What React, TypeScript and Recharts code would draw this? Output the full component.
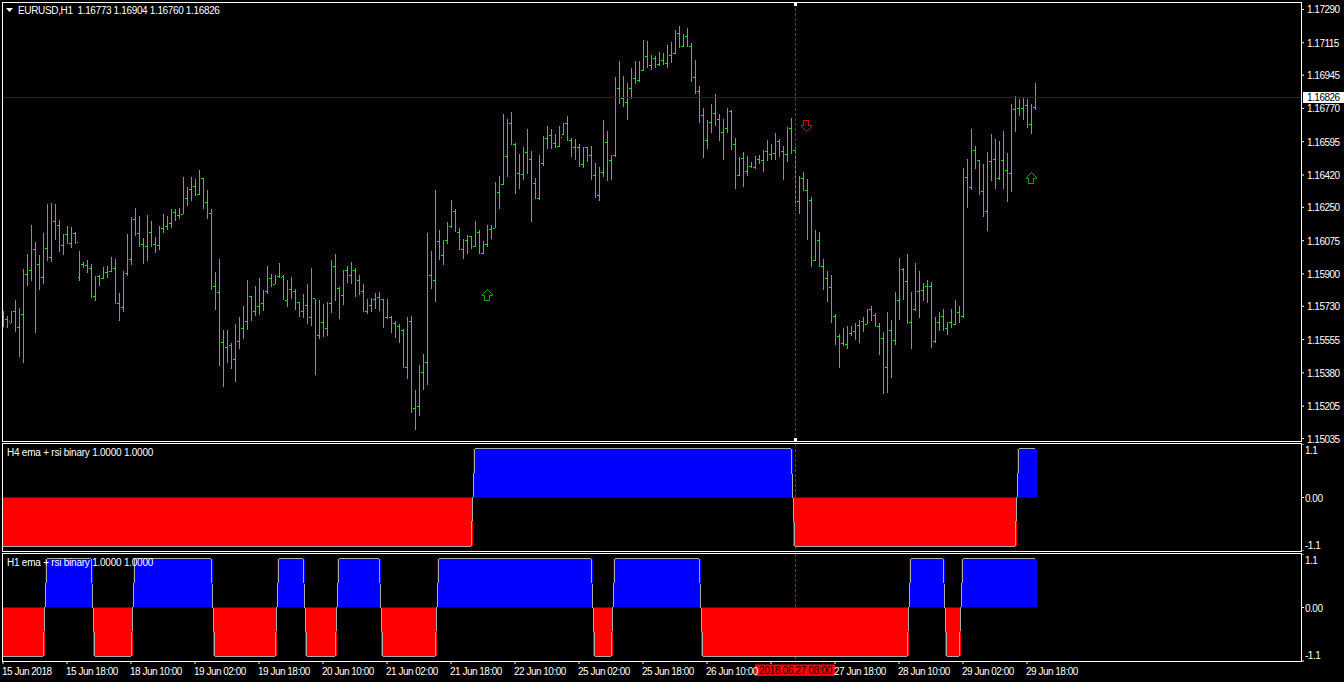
import React from "react";
import {
  ComposedChart,
  Bar,
  Line,
  XAxis,
  YAxis,
  ReferenceLine,
  ReferenceDot,
} from "recharts";

// EURUSD H1 bars
const opens = [1.15668,1.15662,1.15640,1.15704,1.15620,1.15688,1.15898,1.15919,1.16029,1.15951,1.15882,1.16035,1.15987,1.16177,1.16156,1.16050,1.16108,1.16061,1.16113,1.15882,1.15951,1.15945,1.15931,1.15779,1.15889,1.15877,1.15908,1.15914,1.15930,1.15746,1.15725,1.15903,1.15977,1.16187,1.16110,1.16056,1.16045,1.16119,1.16056,1.16049,1.16140,1.16150,1.16166,1.16224,1.16208,1.16213,1.16297,1.16345,1.16361,1.16318,1.16403,1.16276,1.16219,1.15835,1.15805,1.15541,1.15514,1.15525,1.15451,1.15546,1.15614,1.15651,1.15782,1.15704,1.15730,1.15746,1.15809,1.15877,1.15845,1.15886,1.15889,1.15761,1.15819,1.15810,1.15751,1.15704,1.15732,1.15670,1.15772,1.15577,1.15646,1.15614,1.15744,1.15940,1.15826,1.15786,1.15917,1.15893,1.15917,1.15866,1.15809,1.15704,1.15735,1.15768,1.15777,1.15768,1.15672,1.15672,1.15640,1.15626,1.15604,1.15407,1.15651,1.15194,1.15202,1.15383,1.15435,1.15893,1.15865,1.16071,1.15998,1.16075,1.16149,1.16229,1.16119,1.16029,1.16077,1.16099,1.16045,1.16119,1.16008,1.16054,1.16134,1.16140,1.16329,1.16368,1.16516,1.16692,1.16578,1.16429,1.16424,1.16539,1.16502,1.16376,1.16294,1.16481,1.16613,1.16627,1.16587,1.16569,1.16634,1.16692,1.16600,1.16566,1.16566,1.16473,1.16562,1.16523,1.16418,1.16313,1.16432,1.16592,1.16497,1.16520,1.16876,1.16823,1.16800,1.16876,1.16928,1.16918,1.16970,1.17042,1.16995,1.17033,1.17002,1.17023,1.17007,1.17046,1.17060,1.17165,1.17095,1.17149,1.17096,1.16935,1.16860,1.16732,1.16602,1.16697,1.16744,1.16714,1.16644,1.16662,1.16756,1.16581,1.16418,1.16509,1.16439,1.16467,1.16460,1.16504,1.16497,1.16544,1.16529,1.16532,1.16597,1.16544,1.16529,1.16662,1.16550,1.16280,1.16403,1.16340,1.16287,1.15972,1.16077,1.15940,1.15875,1.15828,1.15677,1.15572,1.15535,1.15527,1.15588,1.15600,1.15630,1.15651,1.15635,1.15711,1.15684,1.15625,1.15562,1.15409,1.15604,1.15551,1.15761,1.15924,1.15861,1.15646,1.15711,1.15809,1.15814,1.15835,1.15835,1.15546,1.15646,1.15676,1.15614,1.15646,1.15635,1.15698,1.15677,1.16408,1.16355,1.16550,1.16497,1.16334,1.16229,1.16492,1.16502,1.16403,1.16497,1.16445,1.16429,1.16762,1.16771,1.16771,1.16783,1.16687,1.16776,1.16773];
const highs = [1.15705,1.15679,1.15704,1.15763,1.15721,1.15926,1.16005,1.16157,1.16066,1.16000,1.16115,1.16268,1.16271,1.16268,1.16184,1.16108,1.16152,1.16145,1.16119,1.16019,1.15965,1.15973,1.15952,1.15889,1.15894,1.15937,1.15942,1.15989,1.15979,1.15798,1.15914,1.16110,1.16199,1.16247,1.16205,1.16089,1.16210,1.16178,1.16092,1.16152,1.16215,1.16205,1.16240,1.16240,1.16245,1.16410,1.16357,1.16408,1.16399,1.16446,1.16404,1.16339,1.16240,1.15910,1.15979,1.15605,1.15605,1.15539,1.15637,1.15674,1.15732,1.15868,1.15782,1.15837,1.15879,1.15816,1.15942,1.15900,1.15893,1.15958,1.15893,1.15868,1.15884,1.15819,1.15751,1.15795,1.15847,1.15931,1.15768,1.15763,1.15742,1.15751,1.15973,1.16005,1.15833,1.15921,1.15942,1.15963,1.15931,1.15893,1.15847,1.15768,1.15772,1.15798,1.15805,1.15768,1.15768,1.15679,1.15651,1.15637,1.15609,1.15672,1.15679,1.15290,1.15421,1.15479,1.16113,1.16019,1.16339,1.16131,1.16078,1.16173,1.16287,1.16240,1.16140,1.16082,1.16103,1.16099,1.16178,1.16131,1.16073,1.16157,1.16157,1.16382,1.16415,1.16741,1.16714,1.16749,1.16590,1.16530,1.16569,1.16662,1.16546,1.16404,1.16525,1.16625,1.16678,1.16662,1.16636,1.16678,1.16692,1.16730,1.16613,1.16609,1.16583,1.16566,1.16566,1.16572,1.16481,1.16462,1.16709,1.16651,1.16525,1.16937,1.17019,1.16940,1.16904,1.16983,1.17019,1.17019,1.17130,1.17124,1.17051,1.17044,1.17067,1.17061,1.17103,1.17119,1.17182,1.17203,1.17161,1.17193,1.17114,1.17025,1.16888,1.16772,1.16709,1.16793,1.16846,1.16741,1.16714,1.16772,1.16762,1.16615,1.16515,1.16541,1.16520,1.16488,1.16520,1.16525,1.16552,1.16604,1.16583,1.16641,1.16609,1.16572,1.16672,1.16720,1.16569,1.16415,1.16436,1.16399,1.16303,1.16131,1.16121,1.15979,1.15916,1.15895,1.15690,1.15584,1.15616,1.15627,1.15627,1.15642,1.15658,1.15674,1.15716,1.15732,1.15695,1.15642,1.15595,1.15700,1.15658,1.15805,1.15984,1.15931,1.16005,1.15805,1.15958,1.15916,1.15852,1.15868,1.15858,1.15674,1.15700,1.15716,1.15647,1.15716,1.15763,1.15732,1.16457,1.16504,1.16662,1.16573,1.16499,1.16478,1.16541,1.16636,1.16609,1.16599,1.16651,1.16536,1.16793,1.16835,1.16820,1.16825,1.16820,1.16793,1.16904];
const lows = [1.15623,1.15618,1.15640,1.15597,1.15465,1.15434,1.15838,1.15865,1.15591,1.15817,1.15849,1.15968,1.15965,1.16080,1.16017,1.16001,1.16057,1.16036,1.16057,1.15865,1.15931,1.15907,1.15772,1.15760,1.15838,1.15872,1.15880,1.15912,1.15744,1.15654,1.15702,1.15891,1.15949,1.16101,1.16040,1.15954,1.15970,1.16043,1.16012,1.16028,1.16117,1.16131,1.16143,1.16180,1.16191,1.16213,1.16259,1.16285,1.16311,1.16315,1.16243,1.16191,1.15817,1.15712,1.15418,1.15308,1.15434,1.15402,1.15334,1.15507,1.15560,1.15607,1.15654,1.15681,1.15686,1.15707,1.15796,1.15833,1.15845,1.15877,1.15761,1.15728,1.15768,1.15711,1.15675,1.15670,1.15635,1.15628,1.15371,1.15560,1.15570,1.15576,1.15697,1.15758,1.15665,1.15739,1.15852,1.15847,1.15781,1.15789,1.15702,1.15690,1.15698,1.15714,1.15705,1.15618,1.15663,1.15588,1.15563,1.15539,1.15404,1.15348,1.15171,1.15080,1.15155,1.15292,1.15318,1.15821,1.15754,1.15973,1.15949,1.16057,1.16140,1.16119,1.16028,1.15980,1.16007,1.16033,1.16043,1.16007,1.16007,1.16043,1.16085,1.16140,1.16243,1.16368,1.16411,1.16578,1.16322,1.16348,1.16394,1.16427,1.16175,1.16294,1.16289,1.16467,1.16557,1.16557,1.16562,1.16567,1.16629,1.16600,1.16513,1.16499,1.16464,1.16457,1.16487,1.16394,1.16299,1.16283,1.16411,1.16389,1.16394,1.16516,1.16793,1.16777,1.16709,1.16820,1.16898,1.16909,1.16968,1.16983,1.16972,1.16981,1.16995,1.16998,1.16983,1.17009,1.17056,1.17089,1.17093,1.17095,1.16909,1.16846,1.16693,1.16509,1.16557,1.16641,1.16678,1.16599,1.16499,1.16641,1.16552,1.16347,1.16415,1.16357,1.16415,1.16455,1.16452,1.16478,1.16436,1.16494,1.16499,1.16497,1.16515,1.16394,1.16488,1.16530,1.16254,1.16215,1.16336,1.16079,1.15938,1.15968,1.15935,1.15816,1.15753,1.15644,1.15527,1.15407,1.15521,1.15506,1.15574,1.15553,1.15537,1.15595,1.15637,1.15653,1.15621,1.15474,1.15271,1.15274,1.15353,1.15527,1.15658,1.15763,1.15637,1.15506,1.15705,1.15669,1.15758,1.15747,1.15511,1.15537,1.15600,1.15600,1.15579,1.15616,1.15632,1.15642,1.15669,1.16247,1.16341,1.16452,1.16315,1.16199,1.16126,1.16389,1.16347,1.16394,1.16347,1.16278,1.16331,1.16646,1.16730,1.16709,1.16667,1.16636,1.16760];
const closes = [1.15662,1.15648,1.15704,1.15620,1.15688,1.15898,1.15919,1.16029,1.15951,1.15882,1.16035,1.15987,1.16177,1.16156,1.16050,1.16108,1.16061,1.16113,1.16064,1.15951,1.15945,1.15931,1.15779,1.15889,1.15877,1.15908,1.15914,1.15930,1.15746,1.15725,1.15903,1.15977,1.16187,1.16110,1.16056,1.16045,1.16119,1.16056,1.16049,1.16140,1.16150,1.16166,1.16224,1.16208,1.16213,1.16297,1.16345,1.16361,1.16318,1.16403,1.16276,1.16219,1.15835,1.15805,1.15541,1.15514,1.15525,1.15451,1.15546,1.15614,1.15651,1.15782,1.15704,1.15730,1.15746,1.15809,1.15877,1.15845,1.15886,1.15882,1.15761,1.15819,1.15810,1.15751,1.15704,1.15732,1.15670,1.15772,1.15577,1.15646,1.15614,1.15744,1.15940,1.15826,1.15786,1.15917,1.15893,1.15917,1.15866,1.15809,1.15704,1.15735,1.15768,1.15777,1.15768,1.15672,1.15672,1.15640,1.15626,1.15604,1.15407,1.15651,1.15194,1.15202,1.15383,1.15435,1.15893,1.15865,1.16071,1.15998,1.16075,1.16149,1.16229,1.16119,1.16029,1.16077,1.16099,1.16045,1.16119,1.16008,1.16054,1.16134,1.16140,1.16329,1.16368,1.16516,1.16692,1.16578,1.16429,1.16424,1.16539,1.16502,1.16376,1.16297,1.16481,1.16613,1.16627,1.16587,1.16569,1.16618,1.16692,1.16600,1.16566,1.16566,1.16473,1.16562,1.16523,1.16418,1.16313,1.16432,1.16592,1.16497,1.16520,1.16876,1.16823,1.16800,1.16876,1.16928,1.16918,1.16970,1.17042,1.16995,1.17033,1.17002,1.17023,1.17007,1.17046,1.17060,1.17165,1.17095,1.17149,1.17096,1.16935,1.16860,1.16732,1.16602,1.16697,1.16744,1.16714,1.16644,1.16662,1.16756,1.16581,1.16418,1.16509,1.16439,1.16467,1.16460,1.16504,1.16497,1.16544,1.16529,1.16532,1.16597,1.16544,1.16529,1.16662,1.16550,1.16280,1.16403,1.16340,1.16287,1.15972,1.16077,1.15940,1.15875,1.15828,1.15677,1.15572,1.15535,1.15527,1.15588,1.15600,1.15630,1.15651,1.15635,1.15711,1.15684,1.15625,1.15562,1.15409,1.15604,1.15551,1.15761,1.15924,1.15861,1.15646,1.15711,1.15809,1.15814,1.15835,1.15835,1.15546,1.15646,1.15676,1.15614,1.15646,1.15635,1.15698,1.15677,1.16408,1.16355,1.16550,1.16497,1.16334,1.16229,1.16492,1.16502,1.16403,1.16497,1.16445,1.16429,1.16762,1.16771,1.16771,1.16783,1.16687,1.16776,1.16826];

// Binary indicator runs: [value, number of bars]
const h4Runs = [[-1,118],[1,80],[-1,56],[1,5]];
const h1Runs = [[-1,11],[1,12],[-1,10],[1,20],[-1,16],[1,7],[-1,8],[1,11],[-1,14],[1,39],[-1,5],[1,22],[-1,52],[1,9],[-1,4],[1,19]];

const priceTicks = [1.1729,1.17115,1.16945,1.1677,1.16595,1.1642,1.1625,1.16075,1.159,1.1573,1.15555,1.1538,1.15205,1.15035];
const indicatorTicks = [1.1,0,-1.1];
const dateLabels = ["15 Jun 2018","15 Jun 18:00","18 Jun 10:00","19 Jun 02:00","19 Jun 18:00","20 Jun 10:00","21 Jun 02:00","21 Jun 18:00","22 Jun 10:00","25 Jun 02:00","25 Jun 18:00","26 Jun 10:00","27 Jun 02:00","27 Jun 18:00","28 Jun 10:00","29 Jun 02:00","29 Jun 18:00"];
const dateLabelEvery = 16;
const coveredDateLabel = "27 Jun 02:00";
const slotCount = 325;
const barCount = opens.length;
const lastPrice = 1.16826;
const buyArrows = [{ slot: 121, price: 1.15789 }, { slot: 257, price: 1.16404 }];
const sellArrows = [{ slot: 201, price: 1.16678 }];
const selectedSlot = 198;
const selectedLabel = "2018.06.27 08:00";

const FONT = '"Liberation Sans", Arial, sans-serif';
const TXT = { fontFamily: FONT, fontSize: 10, letterSpacing: -0.5 } as const;

const expand = (runs: number[][]) => runs.flatMap(([v, n]) => Array.from({ length: n }, () => v));
const h4Values = expand(h4Runs);
const h1Values = expand(h1Runs);

const slots = Array.from({ length: slotCount }, (_, i) => i);
const priceData = slots.map((slot) =>
  slot < barCount
    ? { slot, range: [lows[slot], highs[slot]], open: opens[slot], close: closes[slot] }
    : { slot }
);
const indicatorData = (values: number[]) =>
  slots.map((slot) =>
    slot < barCount
      ? { slot, v: values[slot], up: values[slot] > 0 ? values[slot] : null, down: values[slot] < 0 ? values[slot] : null }
      : { slot }
  );
const h4Data = indicatorData(h4Values);
const h1Data = indicatorData(h1Values);
const dateTicks = dateLabels.map((_, i) => i * dateLabelEvery);

const OhlcBar = (props: any) => {
  const { x, y, width, height, payload } = props;
  if (!payload || payload.open === undefined) return null;
  const [lo, hi] = payload.range;
  const cx = Math.floor(x + width / 2) + 0.5;
  const at = (p: number) => Math.floor(y + ((hi - p) / (hi - lo)) * height) + 0.5;
  const stroke = "#00f000";
  return (
    <g shapeRendering="crispEdges">
      <line x1={cx} x2={cx} y1={y} y2={y + height} stroke={stroke} strokeWidth={1} />
      <line x1={cx - 2} x2={cx} y1={at(payload.open)} y2={at(payload.open)} stroke={stroke} strokeWidth={1} strokeDasharray="1 1" />
      <line x1={cx + 1} x2={cx + 3} y1={at(payload.close)} y2={at(payload.close)} stroke={stroke} strokeWidth={1} strokeDasharray="1 1" />
    </g>
  );
};

const ArrowUp = (props: any) => {
  const cx = Math.floor(props.cx) + 0.5;
  const cy = Math.floor(props.cy) + 0.5;
  return (
    <path
      d={`M${cx} ${cy - 6} L${cx + 5} ${cy - 1} L${cx + 5} ${cy} L${cx + 2} ${cy} L${cx + 2} ${cy + 5} L${cx - 3} ${cy + 5} L${cx - 3} ${cy} L${cx - 5} ${cy} L${cx - 5} ${cy - 1} Z`}
      fill="none"
      stroke="#14a014"
      shapeRendering="crispEdges"
    />
  );
};
const ArrowDown = (props: any) => {
  const cx = Math.floor(props.cx) - 0.5;
  const cy = Math.floor(props.cy) + 0.5;
  return (
    <path
      d={`M${cx} ${cy + 6} L${cx + 5} ${cy + 1} L${cx + 5} ${cy} L${cx + 2} ${cy} L${cx + 2} ${cy - 5} L${cx - 3} ${cy - 5} L${cx - 3} ${cy} L${cx - 5} ${cy} L${cx - 5} ${cy + 1} Z`}
      fill="none"
      stroke="#e00000"
      shapeRendering="crispEdges"
    />
  );
};

const PriceTick = (props: any) => (
  <text x={1307} y={props.y} dy={4} fill="#fff" {...TXT}>
    {Number(props.payload.value).toFixed(5)}
  </text>
);

const IndicatorTick = (top: number, bottom: number) => (props: any) => {
  const v = props.payload.value;
  const y = v > 0 ? top : v < 0 ? bottom : props.y;
  return (
    <text x={1305} y={y} dy={4} fill="#fff" {...TXT}>
      {v === 0 ? "0.00" : String(v)}
    </text>
  );
};

const DateTick = (props: any) => {
  const text = dateLabels[dateTicks.indexOf(props.payload.value)];
  if (text === coveredDateLabel) return <g />;
  return (
    <text x={props.x - 1} y={120.5} fill="#fff" {...TXT}>
      {text}
    </text>
  );
};

const LastPriceLabel = (props: any) => {
  const { viewBox } = props;
  const y = Math.floor(viewBox.y);
  return (
    <g>
      <rect x={1303} y={y - 5} width={41} height={11} fill="#fff" />
      <text x={1307} y={y + 4} fill="#000" {...TXT}>
        {lastPrice.toFixed(5)}
      </text>
    </g>
  );
};

const SelectedDateLabel = () => (
  <g>
    <rect x={755} y={110.5} width={80} height={11.5} fill="#ff0000" />
    <text x={759} y={120} fill="#000" {...TXT} letterSpacing={-0.3}>
      {selectedLabel}
    </text>
  </g>
);

const SquareDot = (props: any) => (
  <rect x={Math.floor(props.cx) - 1} y={Math.floor(props.cy) - 1} width={3} height={3} fill="#fff" />
);

const frame = (top: number, height: number): React.CSSProperties => ({
  position: "absolute",
  left: 2,
  top,
  width: 1300,
  height,
  boxSizing: "border-box",
  border: "1px solid #fff",
  pointerEvents: "none",
});

const chartAt = (top: number): React.CSSProperties => ({ position: "absolute", left: 0, top });

const label = (left: number, top: number, spacing: number): React.CSSProperties => ({
  position: "absolute",
  left,
  top,
  color: "#fff",
  fontFamily: FONT,
  fontSize: 10,
  letterSpacing: spacing,
  lineHeight: "12px",
  whiteSpace: "pre",
});

const DASH = "3 2";
const DASH_RED = "#e00000";

export default function App() {
  return (
    <div style={{ position: "fixed", left: 0, top: 0, width: 1344, height: 682, background: "#000", overflow: "hidden" }}>
      <div style={chartAt(0)}>
        <ComposedChart width={1344} height={446} data={priceData} margin={{ top: 3, right: 0, bottom: 5, left: 1 }} barCategoryGap={0} barGap={0}>
          <XAxis dataKey="slot" type="category" hide padding={{ left: 0, right: 0 }} />
          <YAxis orientation="right" width={43} domain={[1.15022, 1.17324]} ticks={priceTicks} allowDataOverflow axisLine={false} tickLine={{ stroke: "#fff" }} tickSize={3} tick={PriceTick} interval={0} />
          <ReferenceLine y={lastPrice} stroke="#1d1d6b" shapeRendering="crispEdges" label={LastPriceLabel} />
          <ReferenceLine x={selectedSlot} stroke={DASH_RED} strokeDasharray={DASH} shapeRendering="crispEdges" />
          <Bar dataKey="range" shape={OhlcBar} isAnimationActive={false} />
          {buyArrows.map((a) => (
            <ReferenceDot key={a.slot} x={a.slot} y={a.price} r={1} shape={ArrowUp} />
          ))}
          {sellArrows.map((a) => (
            <ReferenceDot key={a.slot} x={a.slot} y={a.price} r={1} shape={ArrowDown} />
          ))}
          <ReferenceDot x={selectedSlot} y={1.17314} r={1} shape={SquareDot} />
          <ReferenceDot x={selectedSlot} y={1.1503} r={1} shape={SquareDot} />
        </ComposedChart>
      </div>

      <div style={chartAt(444)}>
        <ComposedChart width={1344} height={107} data={h4Data} stackOffset="sign" margin={{ top: 0, right: 0, bottom: 0, left: 1 }} barCategoryGap={0} barGap={0}>
          <XAxis dataKey="slot" type="category" hide />
          <YAxis orientation="right" width={43} domain={[-1.1, 1.1]} ticks={indicatorTicks} axisLine={false} tickLine={{ stroke: "#fff" }} tickSize={3} tick={IndicatorTick(6, 101)} interval={0} />
          <ReferenceLine segment={[{ x: selectedSlot, y: 1.1 }, { x: selectedSlot, y: 0 }]} stroke={DASH_RED} strokeDasharray={DASH} shapeRendering="crispEdges" />
          <ReferenceLine segment={[{ x: selectedSlot, y: -1 }, { x: selectedSlot, y: -1.1 }]} stroke={DASH_RED} strokeDasharray={DASH} shapeRendering="crispEdges" />
          <Bar dataKey="up" stackId="s" fill="#0000ff" isAnimationActive={false} />
          <Bar dataKey="down" stackId="s" fill="#ff0000" isAnimationActive={false} />
          <Line dataKey="v" stroke="#aaaaaa" strokeWidth={1} dot={false} isAnimationActive={false} shapeRendering="crispEdges" />
        </ComposedChart>
      </div>

      <div style={chartAt(554)}>
        <ComposedChart width={1344} height={128} data={h1Data} stackOffset="sign" margin={{ top: 0, right: 0, bottom: 0, left: 1 }} barCategoryGap={0} barGap={0}>
          <XAxis dataKey="slot" type="category" height={21} ticks={dateTicks} interval={0} axisLine={false} tickLine={{ stroke: "#fff" }} tickSize={3} tick={DateTick} />
          <YAxis orientation="right" width={43} domain={[-1.1, 1.1]} ticks={indicatorTicks} axisLine={false} tickLine={{ stroke: "#fff" }} tickSize={3} tick={IndicatorTick(6, 101)} interval={0} />
          <ReferenceLine segment={[{ x: selectedSlot, y: 1.1 }, { x: selectedSlot, y: 0 }]} stroke={DASH_RED} strokeDasharray={DASH} shapeRendering="crispEdges" />
          <ReferenceLine segment={[{ x: selectedSlot, y: -1 }, { x: selectedSlot, y: -1.1 }]} stroke={DASH_RED} strokeDasharray={DASH} shapeRendering="crispEdges" label={SelectedDateLabel} />
          <Bar dataKey="up" stackId="s" fill="#0000ff" isAnimationActive={false} />
          <Bar dataKey="down" stackId="s" fill="#ff0000" isAnimationActive={false} />
          <Line dataKey="v" stroke="#aaaaaa" strokeWidth={1} dot={false} isAnimationActive={false} shapeRendering="crispEdges" />
        </ComposedChart>
      </div>

      <div style={{ position: "absolute", left: 0, top: 0, width: 2, height: 682, background: "#000" }} />
      <div style={frame(2, 440)} />
      <div style={frame(443, 109)} />
      <div style={frame(553, 109)} />

      <svg style={{ position: "absolute", left: 0, top: 0 }} width={20} height={20}>
        <path d="M6 8 L13 8 L9.5 12 Z" fill="#fff" />
      </svg>
      <div style={label(18, 5, -0.35)}>{"EURUSD,H1  1.16773 1.16904 1.16760 1.16826"}</div>
      <div style={label(7, 447, -0.23)}>{"H4 ema + rsi binary 1.0000 1.0000"}</div>
      <div style={label(7, 557, -0.23)}>{"H1 ema + rsi binary 1.0000 1.0000"}</div>
    </div>
  );
}
